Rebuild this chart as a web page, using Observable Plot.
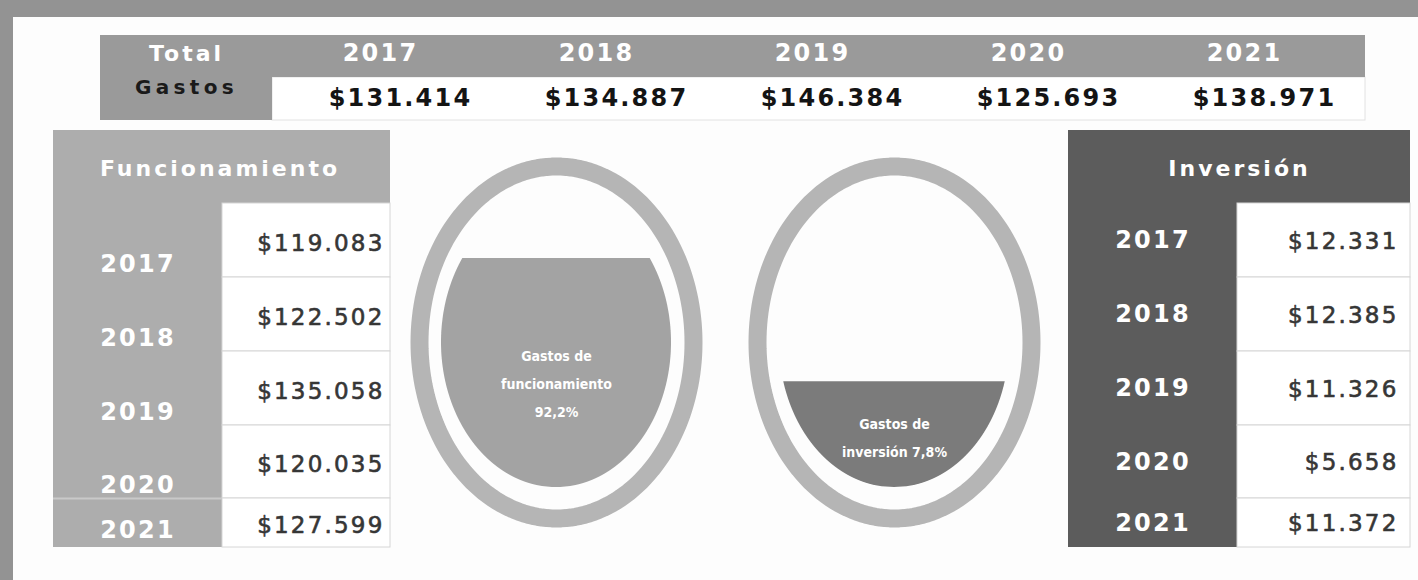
<!DOCTYPE html>
<html>
<head>
<meta charset="utf-8">
<script src="https://cdn.jsdelivr.net/npm/d3@7"></script>
<script src="https://cdn.jsdelivr.net/npm/@observablehq/plot@0.6"></script>
<style>
  html, body { margin: 0; padding: 0; background: #939393; }
  #chart svg { display: block; }
  g[aria-description="ls2"] text { letter-spacing: 2.2px; }
  g[aria-description="ls3"] text { letter-spacing: 3px; }
  g[aria-description="ls45"] text { letter-spacing: 4.3px; }
</style>
</head>
<body>
<div id="chart"></div>
<script>
// ---------------- DATA ----------------
const years = [2017, 2018, 2019, 2020, 2021];
const totalGastos = [131414, 134887, 146384, 125693, 138971];
const funcionamiento = [119083, 122502, 135058, 120035, 127599];
const inversion = [12331, 12385, 11326, 5658, 11372];
const totalLabel = ["Total", "Gastos"];
const groupTitles = ["Funcionamiento", "Inversión"];
const ovalTitles = ["Gastos de\nfuncionamiento", "Gastos de\ninversión"];
const fillLevels = [0.79, 0.365]; // visual fill level of each oval

// ---------------- FORMAT ----------------
const loc = d3.formatLocale({decimal: ",", thousands: ".", grouping: [3], currency: ["$", ""]});
const money = v => "$" + loc.format(",")(v);
const pct = v => loc.format(".1f")(v) + "%";
const total = d3.sum(totalGastos);
const shares = [d3.sum(funcionamiento) / total * 100, d3.sum(inversion) / total * 100];
const ovalLabels = [ovalTitles[0] + "\n" + pct(shares[0]), ovalTitles[1] + " " + pct(shares[1])];

// ---------------- LAYOUT ----------------
const W = 1418, H = 580;
const L = {
  panel: {x: 13, y: 17},
  top: {x0: 100, x1: 1365, split: 272, y0: 35, yMid: 77, y1: 120, colW: 216, valShift: 20},
  func: {x0: 53, split: 222, x1: 390, y0: 130, valueX: 384},
  inv: {x0: 1068, split: 1237, x1: 1410, y0: 130, valueX: 1398},
  rows: [203, 277, 351, 425, 498, 547],
  oval: {cx: [556, 894], cy: 342, rx: 137, ry: 176, ring: 18, frx: 115, fry: 145}
};
const C = {
  bg: "#939393", panel: "#fdfdfd", topHead: "#9a9a9a", func: "#adadad", inv: "#5c5c5c",
  ring: "#b5b5b5", fill: ["#a3a3a3", "#7b7b7b"], value: "#363636", topValue: "#141414", line: "#d6d6d6"
};

// ---------------- DERIVED TABLES ----------------
const idx = d3.range(years.length);
const topCols = idx.map(i => ({
  year: String(years[i]), value: money(totalGastos[i]),
  cx: L.top.split + (i + 0.5) * L.top.colW
}));
const rowsOf = (vals) => idx.map(i => ({
  year: String(years[i]), value: money(vals[i]),
  y0: L.rows[i], y1: L.rows[i + 1], yc: (L.rows[i] + L.rows[i + 1]) / 2, last: i === idx.length - 1
}));
const funcRows = rowsOf(funcionamiento);
const invRows = rowsOf(inversion);

// ellipse ring points
const ringPts = [];
L.oval.cx.forEach((cx, k) => {
  d3.range(0, 361, 2).forEach(a => {
    const r = a * Math.PI / 180;
    ringPts.push({k, x: cx + L.oval.rx * Math.cos(r), y: L.oval.cy + L.oval.ry * Math.sin(r)});
  });
});
// liquid fill points (ellipse below the fill level)
const fillPts = [];
L.oval.cx.forEach((cx, k) => {
  const bottom = L.oval.cy + L.oval.fry;
  const top = bottom - fillLevels[k] * 2 * L.oval.fry;
  const ys = d3.range(top, bottom, 1).concat([bottom]);
  ys.forEach(y => {
    const dy = (y - L.oval.cy) / L.oval.fry;
    const hw = L.oval.frx * Math.sqrt(Math.max(0, 1 - dy * dy));
    fillPts.push({k, y, x1: cx - hw, x2: cx + hw});
  });
});
const ovals = L.oval.cx.map((cx, k) => ({k, cx, label: ovalLabels[k]}));

const FONT = "DejaVu Sans";
const bold = {fontWeight: "bold", fill: "white"};

const plot = Plot.plot({
  width: W, height: H, margin: 0,
  x: {type: "identity", axis: null},
  y: {type: "identity", axis: null},
  style: {background: C.bg, fontFamily: FONT, overflow: "visible"},
  marks: [
    // white panel
    Plot.rect([0], {x1: L.panel.x, x2: W, y1: L.panel.y, y2: H, fill: C.panel}),

    // ---- top table ----
    Plot.rect([0], {x1: L.top.split, x2: L.top.x1, y1: L.top.yMid, y2: L.top.y1, fill: "#ffffff", stroke: "#e2e2e2"}),
    Plot.rect([0], {x1: L.top.x0, x2: L.top.x1, y1: L.top.y0, y2: L.top.yMid, fill: C.topHead}),
    Plot.rect([0], {x1: L.top.x0, x2: L.top.split, y1: L.top.yMid, y2: L.top.y1, fill: C.topHead}),
    Plot.text([totalLabel[0]], {...bold, x: (L.top.x0 + L.top.split) / 2, y: 53, text: d => d, fontSize: 22, ariaDescription: "ls3"}),
    Plot.text([totalLabel[1]], {x: (L.top.x0 + L.top.split) / 2, y: 87, text: d => d, fill: "#1a1a1a", fontSize: 20, fontWeight: "bold", ariaDescription: "ls45"}),
    Plot.text(topCols, {...bold, x: "cx", y: 53, text: "year", fontSize: 24, ariaDescription: "ls2"}),
    Plot.text(topCols, {x: d => d.cx + L.top.valShift, y: 98, text: "value", fill: C.topValue, fontSize: 24, fontWeight: "bold", ariaDescription: "ls2"}),

    // ---- Funcionamiento table ----
    Plot.rect([0], {x1: L.func.x0, x2: L.func.x1, y1: L.func.y0, y2: L.rows[0], fill: C.func}),
    Plot.rect([0], {x1: L.func.x0, x2: L.func.split, y1: L.rows[0], y2: L.rows[5], fill: C.func}),
    Plot.rect(funcRows, {x1: L.func.split, x2: L.func.x1, y1: "y0", y2: "y1", fill: "#ffffff", stroke: C.line}),
    Plot.ruleY([L.rows[4]], {x1: L.func.x0, x2: L.func.split, stroke: "#c9c9c9", strokeWidth: 2}),
    Plot.text([groupTitles[0]], {...bold, x: (L.func.x0 + L.func.x1) / 2 - 2, y: 168, text: d => d, fontSize: 22, ariaDescription: "ls3"}),
    Plot.text(funcRows, {...bold, x: (L.func.x0 + L.func.split) / 2, y: d => d.y1 - (d.last ? 17 : 13), text: "year", fontSize: 24, ariaDescription: "ls2"}),
    Plot.text(funcRows, {x: L.func.valueX, y: d => d.yc + 3, text: "value", fill: C.value, stroke: C.value, strokeWidth: 0.6, fontSize: 23, textAnchor: "end", ariaDescription: "ls2"}),

    // ---- Inversión table ----
    Plot.rect([0], {x1: L.inv.x0, x2: L.inv.x1, y1: L.inv.y0, y2: L.rows[0], fill: C.inv}),
    Plot.rect([0], {x1: L.inv.x0, x2: L.inv.split, y1: L.rows[0], y2: L.rows[5], fill: C.inv}),
    Plot.rect(invRows, {x1: L.inv.split, x2: L.inv.x1, y1: "y0", y2: "y1", fill: "#ffffff", stroke: C.line}),
    Plot.text([groupTitles[1]], {...bold, x: (L.inv.x0 + L.inv.x1) / 2, y: 168, text: d => d, fontSize: 22, ariaDescription: "ls3"}),
    Plot.text(invRows, {...bold, x: (L.inv.x0 + L.inv.split) / 2, y: "yc", text: "year", fontSize: 24, ariaDescription: "ls2"}),
    Plot.text(invRows, {x: L.inv.valueX, y: d => d.yc + 1, text: "value", fill: C.value, stroke: C.value, strokeWidth: 0.6, fontSize: 23, textAnchor: "end", ariaDescription: "ls2"}),

    // ---- ovals ----
    Plot.line(ringPts, {x: "x", y: "y", z: "k", stroke: C.ring, strokeWidth: L.oval.ring, curve: "linear-closed"}),
    Plot.areaX(fillPts, {y: "y", x1: "x1", x2: "x2", z: "k", fill: d => C.fill[d.k]}),
    Plot.text(ovals.filter(d => d.k === 0), {x: "cx", y: 380, text: "label", fill: "white", fontSize: 14, fontFamily: "DejaVu Sans Condensed", fontWeight: "bold", lineHeight: 2}),
    Plot.text(ovals.filter(d => d.k === 1), {x: "cx", y: 434, text: "label", fill: "white", fontSize: 14, fontFamily: "DejaVu Sans Condensed", fontWeight: "bold", lineHeight: 2})
  ]
});

document.getElementById("chart").appendChild(plot);
</script>
</body>
</html>
